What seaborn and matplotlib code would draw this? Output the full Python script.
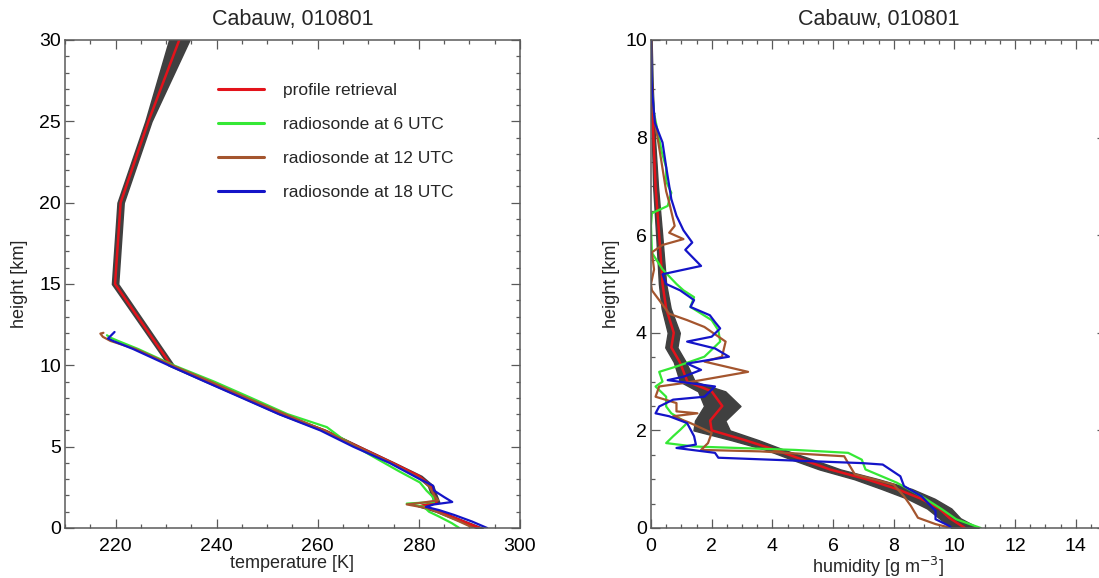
import numpy as np
import pandas as pd
import matplotlib
matplotlib.use("Agg")
import matplotlib.pyplot as plt
import seaborn as sns
from matplotlib.ticker import MultipleLocator

# ---------------- data ----------------
title = "Cabauw, 010801"
labels = ["profile retrieval", "radiosonde at 6 UTC", "radiosonde at 12 UTC", "radiosonde at 18 UTC"]

# temperature retrieval (height km, T K, half-width of uncertainty band)
ret_T_h = [0, 0.5, 1.0, 1.35, 1.6, 2.0, 2.6, 3.2, 4, 5, 6, 7, 8, 9, 10, 15, 20, 25, 30]
ret_T = [292.0, 288.0, 284.0, 280.3, 283.5, 283.0, 282.3, 280.0, 274.8, 268.0, 261.3, 252.8,
         245.6, 238.2, 231.0, 219.9, 221.0, 226.5, 232.6]
ret_T_err = [0.6, 0.5, 0.5, 0.5, 0.5, 0.5, 0.5, 0.5, 0.4, 0.4, 0.4, 0.4, 0.4, 0.4, 0.5,
             0.6, 0.6, 0.6, 2.0]

# radiosonde temperatures
rs6_T_h = [0, 0.3, 0.7, 1.0, 1.3, 1.5, 1.6, 1.9, 2.3, 2.8, 3.5, 4.5, 5.5, 6.2, 7, 8, 9, 10,
           11, 11.5, 11.7, 11.85]
rs6_T = [288.0, 286.5, 284.0, 282.0, 281.0, 277.6, 283.0, 282.8, 281.5, 280.2, 276.0, 270.3,
         264.8, 261.8, 254.0, 246.8, 239.5, 231.5, 224.5, 220.5, 219.0, 218.3]
rs12_T_h = [0, 0.4, 0.8, 1.2, 1.45, 1.55, 1.7, 2.0, 2.5, 3.0, 4, 5, 6, 7, 8, 9, 10, 11, 11.5,
            11.75, 11.95, 12.0]
rs12_T = [290.8, 288.0, 285.0, 282.0, 277.6, 280.5, 283.8, 283.0, 282.2, 280.5, 274.5, 267.8,
          261.2, 253.5, 246.0, 238.8, 231.2, 224.0, 219.0, 217.5, 217.0, 217.6]
rs18_T_h = [0, 0.4, 0.8, 1.1, 1.3, 1.45, 1.6, 1.9, 2.3, 2.6, 3.0, 4, 5, 6, 7, 8, 9, 10, 11,
            11.5, 11.65, 11.8, 12.05]
rs18_T = [293.5, 290.5, 287.0, 284.0, 281.4, 283.0, 286.6, 285.0, 283.0, 282.8, 280.2, 274.2,
          267.0, 260.5, 252.3, 245.0, 237.7, 230.5, 223.5, 219.5, 218.5, 219.0, 219.8]

# humidity retrieval (height km, q g/m3, half-width)
ret_q_h = [0, 0.2, 0.4, 0.6, 0.8, 1.0, 1.2, 1.4, 1.6, 1.8, 2.0, 2.2, 2.5, 2.8, 3.0, 3.4, 3.7,
           4.0, 4.5, 5.0, 6.0, 7.0, 8.0, 9.0, 10.0]
ret_q = [10.35, 9.85, 9.5, 8.9, 8.1, 7.1, 5.9, 5.0, 4.1, 3.1, 2.0, 1.95, 2.35, 2.0, 1.2, 0.95,
         0.67, 0.75, 0.5, 0.38, 0.27, 0.15, 0.08, 0.03, 0.0]
ret_q_err = [0.45, 0.35, 0.4, 0.45, 0.5, 0.4, 0.35, 0.35, 0.3, 0.45, 0.6, 0.5, 0.6, 0.45, 0.25,
             0.2, 0.2, 0.2, 0.15, 0.12, 0.1, 0.08, 0.05, 0.03, 0.02]

# radiosonde humidity
rs6_q_h = [10.0, 9.0, 8.5, 7.69, 7.39, 7.1, 6.87, 6.6, 6.45, 6.2, 5.64, 5.3, 5.0, 4.87, 4.73,
           4.53, 4.26, 4.05, 3.82, 3.51, 3.31, 3.2, 3.0, 2.9, 2.69, 2.49, 2.35, 2.15, 2.01, 1.88,
           1.74, 1.67, 1.6, 1.54, 1.4, 1.2, 0.93, 0.65, 0.38, 0.18, 0.0]
rs6_q = [0.0, 0.02, 0.1, 0.36, 0.5, 0.5, 0.67, 0.55, 0.03, 0.0, 0.03, 0.38, 0.84, 1.07, 1.42,
         1.3, 2.0, 2.22, 2.28, 1.76, 0.84, 0.27, 0.38, 0.15, 0.5, 0.5, 0.67, 1.19, 0.96, 0.73,
         0.5, 1.42, 4.76, 6.5, 6.95, 7.07, 8.1, 8.92, 9.6, 10.06, 10.87]
rs12_q_h = [9.0, 8.44, 7.6, 6.9, 6.67, 6.19, 6.05, 5.92, 5.8, 5.65, 5.3, 5.0, 4.87, 4.67, 4.39,
            4.26, 4.12, 3.82, 3.51, 3.41, 3.2, 3.03, 2.97, 2.9, 2.69, 2.56, 2.39, 2.35, 2.29,
            2.15, 1.95, 1.74, 1.6, 1.57, 1.47, 1.33, 1.1, 0.89, 0.65, 0.45, 0.21, 0.08, 0.0]
rs12_q = [0.0, 0.1, 0.32, 0.5, 0.6, 0.78, 0.6, 1.07, 0.38, 0.03, 0.1, 0.0, 0.03, 0.27, 0.6,
          1.19, 1.76, 2.46, 2.34, 1.76, 3.2, 1.65, 1.07, 0.27, 0.15, 0.84, 0.84, 1.53, 0.73,
          1.3, 2.0, 1.88, 1.65, 3.61, 6.37, 6.5, 6.72, 8.0, 8.34, 8.57, 8.8, 9.38, 9.9]
rs18_q_h = [10.0, 9.0, 8.3, 7.9, 7.4, 6.74, 6.4, 6.1, 5.85, 5.7, 5.37, 5.2, 5.0, 4.87, 4.67,
            4.53, 4.36, 4.22, 4.09, 3.92, 3.82, 3.68, 3.51, 3.37, 3.24, 3.1, 3.03, 2.9, 2.69,
            2.63, 2.49, 2.35, 2.29, 2.15, 1.88, 1.71, 1.64, 1.54, 1.44, 1.37, 1.33, 1.3, 1.06,
            0.86, 0.65, 0.35, 0.18, 0.04, 0.0]
rs18_q = [0.0, 0.03, 0.13, 0.38, 0.5, 0.67, 0.84, 1.07, 1.36, 1.13, 1.65, 0.38, 0.5, 0.96, 1.42,
          1.3, 1.94, 2.11, 2.28, 2.0, 1.19, 2.11, 2.57, 1.19, 1.65, 1.07, 0.55, 2.11, 1.76, 0.73,
          0.27, 0.15, 0.6, 1.19, 1.42, 1.48, 0.84, 2.11, 2.22, 5.23, 6.95, 7.64, 8.22, 8.34, 8.92,
          9.38, 9.38, 9.84, 9.9]

colors = ["#e3131b", "#35e835", "#a4552e", "#1414c8"]
band_color = "#404040"

# ---------------- style ----------------
sns.set_style("ticks")
plt.rcParams["font.family"] = ["Liberation Sans", "DejaVu Sans"]
plt.rcParams["axes.edgecolor"] = "#5a5a5a"
plt.rcParams["xtick.color"] = "#5a5a5a"
plt.rcParams["ytick.color"] = "#5a5a5a"
plt.rcParams["xtick.labelcolor"] = "black"
plt.rcParams["ytick.labelcolor"] = "black"

fig = plt.figure(figsize=(10.99, 5.78), dpi=100)
ax1 = fig.add_axes([65 / 1099, 50 / 578, 455 / 1099, 488 / 578])
ax2 = fig.add_axes([651 / 1099, 50 / 578, 455 / 1099, 488 / 578])


def profile(ax, x, y, color, lw, label):
    df = pd.DataFrame({"x": x, "y": y})
    sns.lineplot(data=df, x="x", y="y", sort=False, estimator=None, color=color,
                 linewidth=lw, ax=ax, label=label, orient="y")


def style_axes(ax):
    ax.tick_params(which="both", direction="in", top=True, right=True, labelsize=14,
                   width=0.9)
    ax.tick_params(axis="x", pad=7)
    ax.tick_params(axis="y", pad=3)
    ax.tick_params(which="major", length=6.5)
    ax.tick_params(which="minor", length=3)
    for s in ax.spines.values():
        s.set_linewidth(1.1)
        s.set_visible(True)
    ax.set_title(title, fontsize=15.5, pad=11)


# left: temperature
T_arr = np.array(ret_T)
Te = np.array(ret_T_err)
ax1.fill_betweenx(ret_T_h, T_arr - Te, T_arr + Te, color=band_color, linewidth=1.2,
                  edgecolor=band_color, zorder=1)
profile(ax1, ret_T, ret_T_h, colors[0], 1.8, labels[0])
profile(ax1, rs6_T, rs6_T_h, colors[1], 1.6, labels[1])
profile(ax1, rs12_T, rs12_T_h, colors[2], 1.6, labels[2])
profile(ax1, rs18_T, rs18_T_h, colors[3], 1.6, labels[3])
ax1.set_xlim(210, 300)
ax1.set_ylim(0, 30)
ax1.xaxis.set_major_locator(MultipleLocator(20))
ax1.xaxis.set_minor_locator(MultipleLocator(5))
ax1.yaxis.set_major_locator(MultipleLocator(5))
ax1.yaxis.set_minor_locator(MultipleLocator(1))
ax1.set_xlabel("temperature [K]", fontsize=13, labelpad=0)
ax1.set_ylabel("height [km]", fontsize=13, labelpad=8)
style_axes(ax1)
leg = ax1.legend(loc="upper left", bbox_to_anchor=(0.318, 0.93), frameon=False, fontsize=12.5,
                 handlelength=2.6, handletextpad=1.15, labelspacing=1.08, borderpad=0)
for ln in leg.get_lines():
    ln.set_linewidth(2.2)

# right: humidity
q_arr = np.array(ret_q)
qe = np.array(ret_q_err)
ax2.fill_betweenx(ret_q_h, q_arr - qe, q_arr + qe, color=band_color, linewidth=1.0,
                  edgecolor=band_color, zorder=1)
profile(ax2, ret_q, ret_q_h, colors[0], 1.8, labels[0])
profile(ax2, rs6_q, rs6_q_h, colors[1], 1.6, labels[1])
profile(ax2, rs12_q, rs12_q_h, colors[2], 1.6, labels[2])
profile(ax2, rs18_q, rs18_q_h, colors[3], 1.6, labels[3])
ax2.set_xlim(0, 15)
ax2.set_ylim(0, 10)
ax2.xaxis.set_major_locator(MultipleLocator(2))
ax2.xaxis.set_minor_locator(MultipleLocator(0.5))
ax2.yaxis.set_major_locator(MultipleLocator(2))
ax2.yaxis.set_minor_locator(MultipleLocator(0.5))
ax2.set_xlabel("humidity [g m$^{-3}$]", fontsize=13, labelpad=0)
ax2.set_ylabel("height [km]", fontsize=13, labelpad=4)
style_axes(ax2)
ax2.get_legend().remove()

fig.savefig("out.png", dpi=100)
